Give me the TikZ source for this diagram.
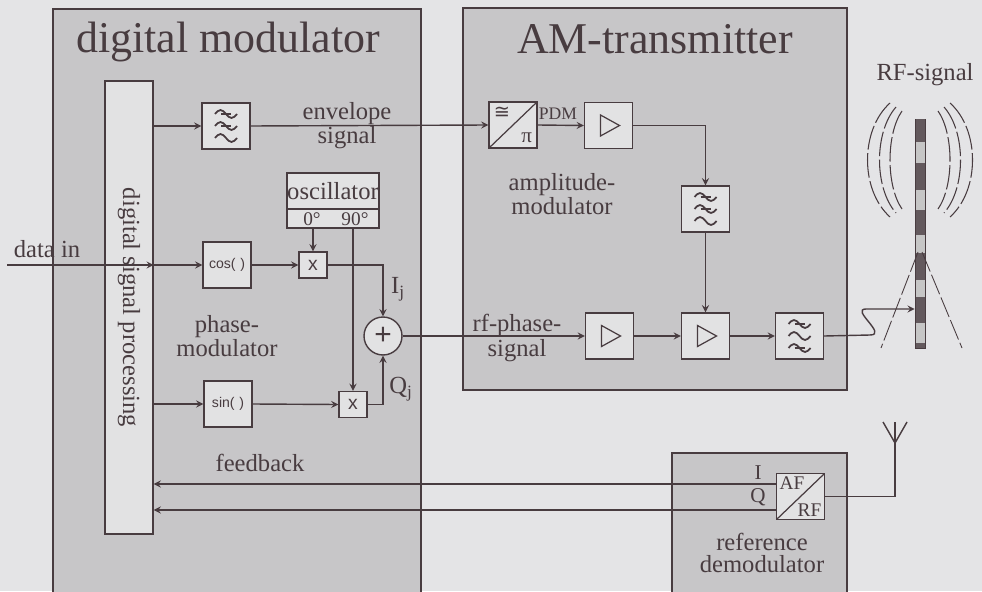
\documentclass[tikz,border=0pt]{standalone}
\usepackage{fontspec}
\setmainfont{Liberation Serif}
\newfontfamily\blocksans{Liberation Sans}
\newfontfamily\symsans{DejaVu Sans}
\usetikzlibrary{positioning}

\definecolor{paper}{RGB}{228,228,230}
\definecolor{panelgray}{RGB}{199,198,200}
\definecolor{blockgray}{RGB}{226,226,227}
\definecolor{ink}{RGB}{72,60,64}

\tikzset{
  panel/.style={draw=ink, fill=panelgray, line width=1pt},
  title/.style={text=ink, font=\fontsize{25}{28}\selectfont, anchor=base},
  lbl/.style={text=ink, align=center, inner sep=0pt,
    font=\fontsize{14}{12.5}\selectfont},
  small/.style={text=ink, inner sep=1pt, font=\fontsize{10}{11}\selectfont},
  block/.style={draw=ink, fill=blockgray, line width=0.8pt, inner sep=0pt,
    minimum width=0.96cm, minimum height=0.92cm, text=ink},
  mult/.style={block, minimum width=0.56cm, minimum height=0.52cm,
    font=\blocksans\fontsize{11}{11}\selectfont},
  adder/.style={draw=ink, fill=blockgray, line width=0.8pt, circle,
    minimum size=0.76cm, inner sep=0pt, text=ink,
    font=\blocksans\fontsize{17}{17}\selectfont},
  amp/.style={block, path picture={
    \draw[ink, line width=0.7pt, shift={(path picture bounding box.center)}]
      (-8,-10.5) -- (11,0) -- (-8,10.5) -- cycle;}},
  filterbox/.style={block, path picture={
    \begin{scope}[shift={(path picture bounding box.center)}, ink, line width=1pt]
    \foreach \dy/\cut in {#1} {
      \draw (-11,\dy) sin (-5.5,\dy-4) cos (0,\dy) sin (5.5,\dy+4) cos (11,\dy);
      \ifnum\cut=1 \draw (-5,\dy) -- (5,\dy); \fi
    }
    \end{scope}}},
  lowpass/.style={filterbox={-12/1, 0/1, 12/0}},
  bandpass/.style={filterbox={-12/1, 0/0, 12/1}},
  conv/.style={block, path picture={
    \draw[ink, line width=0.7pt] (path picture bounding box.south west)
      -- (path picture bounding box.north east);}},
  sig/.style={draw=ink, line width=0.8pt, ->},
  >=stealth
}

\begin{document}
\begin{tikzpicture}[x=0.02cm, y=-0.02cm]
  \fill[paper] (0,0) rectangle (982,591);
  \useasboundingbox (0,0) rectangle (982,591);
  \clip (0,0) rectangle (982,591);

  % the three units
  \draw[panel] (53,9) rectangle (421,620);
  \draw[panel] (463,8) rectangle (847,390);
  \draw[panel] (672,453) rectangle (847,620);
  \node[title] at (228,53) {digital modulator};
  \node[title] at (655,54) {AM-transmitter};

  % digital modulator
  \node[block, minimum width=0.96cm, minimum height=9.06cm] (dsp) at (129,307.5) {};
  \node[lbl, rotate=-90] at (dsp) {digital signal processing};
  \node[lowpass] (envf) at (226,126) {};
  \node[block, font=\blocksans\fontsize{8}{8}\selectfont] (cosb) at (227,265) {cos(\,\,)};
  \node[block, font=\blocksans\fontsize{8}{8}\selectfont] (sinb) at (228,404) {sin(\,\,)};
  \node[block, minimum width=1.84cm, minimum height=0.72cm, lbl] (osc) at (333,191) {oscillator};
  \node[block, minimum width=1.84cm, minimum height=0.38cm] (phase) at (333,218.5) {};
  \node[small, font=\fontsize{11}{11}\selectfont] at (312,219) {0°};
  \node[small, font=\fontsize{11}{11}\selectfont] at (355,219) {90°};
  \node[mult] (mulI) at (313,265) {x};
  \node[mult] (mulQ) at (353,404.5) {x};
  \node[adder] (add) at (383,336) {+};
  \node[lbl] at (398,289) {I\textsubscript{j}};
  \node[lbl] at (401,389) {Q\textsubscript{j}};
  \node[lbl] at (227,336) {phase-\\modulator};
  \node[lbl] at (260,463) {feedback};
  \node[lbl] at (47,249) {data in};
  \node[lbl] at (347,126) {envelope\\signal};
  \coordinate (datain) at (7,265);

  % AM-transmitter
  \node[conv] (adc) at (513,125) {};
  \node[small, anchor=north west, inner sep=3pt, font=\symsans\fontsize{11}{11}\selectfont]
    at (adc.north west) {≅};
  \node[small, anchor=south east, inner sep=3pt, font=\fontsize{12}{12}\selectfont]
    at (adc.south east) {π};
  \node[amp] (pdmamp) at (608.5,125.5) {};
  \node[small] at (558,114) {PDM};
  \node[lowpass] (amf) at (705.5,209) {};
  \node[lbl] at (562,194) {amplitude-\\modulator};
  \node[amp] (rfamp) at (609.5,336) {};
  \node[amp] (modamp) at (705.5,336) {};
  \node[bandpass] (outf) at (799.5,336) {};
  \node[lbl] at (517,338) {rf-phase-\\signal};

  % reference demodulator
  \node[conv] (afrf) at (800.5,496.5) {};
  \node[small, anchor=north west, inner sep=2pt, font=\fontsize{11}{11}\selectfont]
    at (afrf.north west) {AF};
  \node[small, anchor=south east, inner sep=2pt, font=\fontsize{11}{11}\selectfont]
    at (afrf.south east) {RF};
  \node[small, font=\fontsize{12}{12}\selectfont] at (758,473) {I};
  \node[small, font=\fontsize{12}{12}\selectfont] at (758,497) {Q};
  \node[lbl] at (762,553) {reference\\demodulator};
  \coordinate (iout) at ([yshift=0.25cm]afrf.west);
  \coordinate (qout) at ([yshift=-0.27cm]afrf.west);
  \coordinate (rxant) at (895,422);

  % transmitter mast with its stripes and guy wires
  \node[draw=ink, fill=gray!45, line width=0.4pt, minimum width=0.2cm,
    minimum height=4.58cm, inner sep=0pt] (mast) at (920,233.5) {};
  \foreach \ya/\yb in {119/142, 163/190, 210/235, 253/280, 297/323, 343/348}
    \fill[ink!85] (915.5,\ya) rectangle (924.5,\yb);
  \draw[ink, line width=0.5pt, dash pattern=on 12pt off 2pt] (918,252) -- (881,348);
  \draw[ink, line width=0.5pt, dash pattern=on 12pt off 2pt] (922,252) -- (962,348);
  \foreach \s in {1,-1} {
    \begin{scope}[shift={(920,0)}, xscale=\s, ink, line width=0.6pt,
        dash pattern=on 14pt off 2pt]
      \draw (-30,103) .. controls (-60,130) and (-60,190) .. (-30,217);
      \draw (-24,107) .. controls (-46,132) and (-46,188) .. (-24,213);
      \draw (-18,111) .. controls (-34,134) and (-34,186) .. (-18,209);
    \end{scope}
  }
  \node[lbl] at (925,75) {RF-signal};
  \coordinate (feed) at (mast.west |- 0,309);

  % signal paths
  \draw[sig] (datain) -- (datain -| dsp.east);
  \draw[sig] (dsp.east |- envf.west) -- (envf.west);
  \draw[sig] (envf.east) -- (adc.west);
  \draw[sig] (dsp.east |- cosb.west) -- (cosb.west);
  \draw[sig] (dsp.east |- sinb.west) -- (sinb.west);
  \draw[sig] (cosb.east) -- (mulI.west);
  \draw[sig] (sinb.east) -- (mulQ.west);
  \draw[sig] (mulI |- phase.south) -- (mulI.north);
  \draw[sig] (mulQ |- phase.south) -- (mulQ.north);
  \draw[sig] (mulI.east) -| (add.north);
  \draw[sig] (mulQ.east) -| (add.south);
  \draw[sig] (add.east) -- (rfamp.west);
  \draw[sig] (adc.east) -- (pdmamp.west);
  \draw[sig] (pdmamp.east) -| (amf.north);
  \draw[sig] (amf.south) -- (modamp.north);
  \draw[sig] (rfamp.east) -- (modamp.west);
  \draw[sig] (modamp.east) -- (outf.west);
  \draw[sig] (outf.east) -- (870,335) .. controls (888,335) and (850,309) .. (866,309) -- (feed);
  \draw[sig] (iout) -- (iout -| dsp.east);
  \draw[sig] (qout) -- (qout -| dsp.east);
  \draw[draw=ink, line width=0.8pt] (afrf.east) -| (rxant);
  \draw[draw=ink, line width=0.8pt] (883,422) -- (895,443) -- (907,422);
\end{tikzpicture}
\end{document}
